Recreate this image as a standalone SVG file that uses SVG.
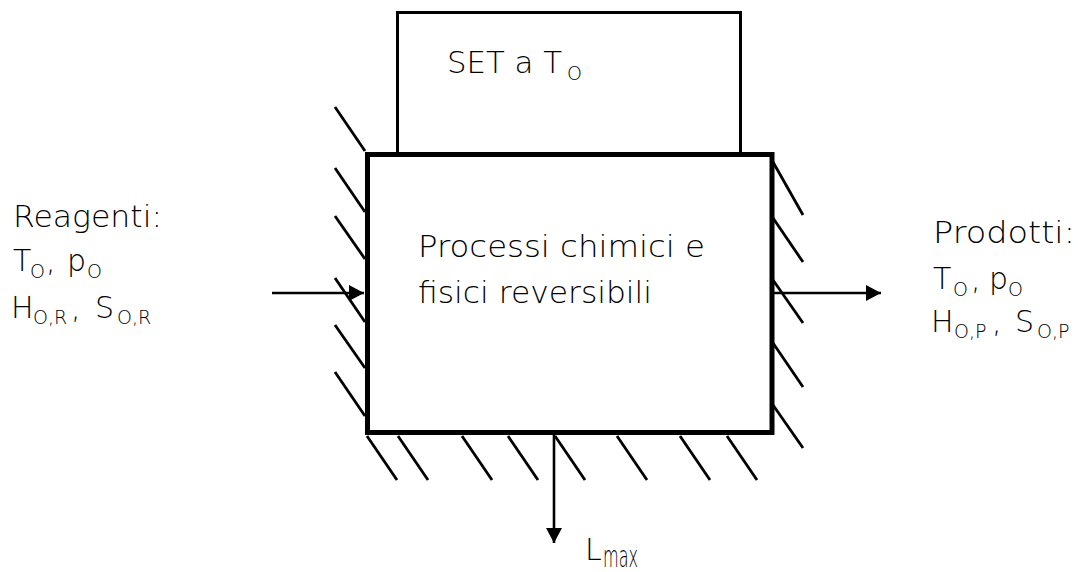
<svg xmlns="http://www.w3.org/2000/svg" width="1082" height="572" viewBox="0 0 1082 572">
  <style>
    .hand { font-family: "DejaVu Sans", "Noto Sans", sans-serif; font-weight: 200; font-size: 30px; fill: #000; }
    .sub { font-size: 19px; }
    .hatch { stroke: #000; stroke-width: 2.8; fill: none; }
    .wire { stroke: #000; stroke-width: 2.6; fill: none; }
  </style>
  <defs>
    <marker id="head" viewBox="0 0 15 16" refX="15" refY="8" markerWidth="15" markerHeight="16" markerUnits="userSpaceOnUse" orient="auto">
      <path d="M0,0 L15,8 L0,16 Z" fill="#000"/>
    </marker>
  </defs>
  <rect width="1082" height="572" fill="#fff"/>

  <!-- reservoir at T0 -->
  <g id="reservoir">
    <rect x="397.5" y="12.5" width="343" height="141" fill="#fff" stroke="#000" stroke-width="3"/>
    <text class="hand" x="447" y="73" textLength="115" lengthAdjust="spacingAndGlyphs">SET a T</text>
    <text class="hand sub" x="567" y="80">O</text>
  </g>

  <!-- insulating walls (hatching) -->
  <g id="walls">
    <!-- left wall -->
    <line class="hatch" x1="335" y1="107" x2="365" y2="151"/>
    <line class="hatch" x1="335" y1="168" x2="365" y2="212"/>
    <line class="hatch" x1="335" y1="216" x2="365" y2="259"/>
    <line class="hatch" x1="335" y1="278" x2="365" y2="322"/>
    <line class="hatch" x1="335" y1="325" x2="365" y2="368"/>
    <line class="hatch" x1="335" y1="372" x2="365" y2="416"/>
    <!-- right wall -->
    <line class="hatch" x1="773" y1="162" x2="803" y2="215"/>
    <line class="hatch" x1="773" y1="218" x2="803" y2="262"/>
    <line class="hatch" x1="773" y1="280" x2="803" y2="323"/>
    <line class="hatch" x1="773" y1="343" x2="803" y2="387"/>
    <line class="hatch" x1="773" y1="405" x2="803" y2="448"/>
    <!-- bottom wall -->
    <line class="hatch" x1="367" y1="436" x2="397" y2="480"/>
    <line class="hatch" x1="398" y1="436" x2="428" y2="480"/>
    <line class="hatch" x1="462" y1="436" x2="492" y2="480"/>
    <line class="hatch" x1="508" y1="436" x2="538" y2="480"/>
    <line class="hatch" x1="555" y1="436" x2="585" y2="480"/>
    <line class="hatch" x1="617" y1="436" x2="647" y2="480"/>
    <line class="hatch" x1="680" y1="436" x2="710" y2="480"/>
    <line class="hatch" x1="727" y1="436" x2="757" y2="480"/>
  </g>

  <!-- reversible process system -->
  <g id="system">
    <rect x="367.5" y="154.5" width="404.5" height="278" fill="none" stroke="#000" stroke-width="5"/>
    <text class="hand" x="418" y="257" textLength="287" lengthAdjust="spacingAndGlyphs">Processi chimici e</text>
    <text class="hand" x="418" y="303" textLength="234" lengthAdjust="spacingAndGlyphs">fisici reversibili</text>
  </g>

  <!-- inputs -->
  <g id="reagents">
    <text class="hand" x="13" y="227" textLength="149" lengthAdjust="spacingAndGlyphs">Reagenti:</text>
    <text class="hand" y="271"><tspan x="13">T</tspan><tspan class="sub" x="30" dy="7">O</tspan><tspan x="46" dy="-7">,</tspan><tspan x="67">p</tspan><tspan class="sub" x="87" dy="7">O</tspan></text>
    <text class="hand" y="318"><tspan x="11">H</tspan><tspan class="sub" x="33" dy="6">O,R</tspan><tspan x="71" dy="-6">,</tspan><tspan x="95">S</tspan><tspan class="sub" x="117" dy="6">O,R</tspan></text>
  </g>

  <!-- outputs -->
  <g id="products">
    <text class="hand" x="933" y="243" textLength="142" lengthAdjust="spacingAndGlyphs">Prodotti:</text>
    <text class="hand" y="289"><tspan x="933">T</tspan><tspan class="sub" x="953" dy="7">O</tspan><tspan x="971" dy="-7">,</tspan><tspan x="989">p</tspan><tspan class="sub" x="1008" dy="7">O</tspan></text>
    <text class="hand" y="332"><tspan x="931">H</tspan><tspan class="sub" x="954" dy="6">O,P</tspan><tspan x="992" dy="-6">,</tspan><tspan x="1015">S</tspan><tspan class="sub" x="1037" dy="6">O,P</tspan></text>
  </g>

  <!-- maximum work -->
  <g id="work">
    <text class="hand" x="585" y="560" font-size="33">L</text>
    <text class="hand" x="603" y="567" font-size="21" textLength="35" lengthAdjust="spacingAndGlyphs">max</text>
  </g>

  <!-- flows -->
  <g id="connectors">
    <line class="wire" x1="272" y1="293" x2="364" y2="293" marker-end="url(#head)"/>
    <line class="wire" x1="772" y1="293" x2="881" y2="293" marker-end="url(#head)"/>
    <line class="wire" x1="554" y1="433" x2="554" y2="543" marker-end="url(#head)"/>
  </g>
</svg>
